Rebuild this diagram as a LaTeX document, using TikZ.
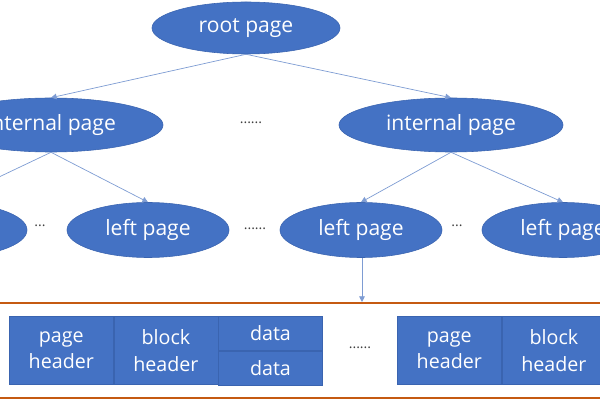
\documentclass[tikz,border=0pt]{standalone}
\usepackage{fontspec}
\setmainfont{Open Sans}
\usetikzlibrary{positioning,shapes,arrows.meta}
\definecolor{pageblue}{HTML}{4472C4}
\definecolor{pageedge}{HTML}{3A64B0}
\definecolor{linkblue}{HTML}{7E9CD3}
\definecolor{barorange}{HTML}{C55A11}
\tikzstyle{page}=[draw=pageedge,fill=pageblue,ellipse,inner sep=0pt,text=white,
        font=\fontsize{15}{18}\selectfont]
\tikzstyle{cell}=[draw=pageedge,fill=pageblue,rectangle,inner sep=0pt,text=white,
        align=center,minimum width=2.6cm,minimum height=1.7cm,
        font=\fontsize{14}{19}\selectfont]
\tikzstyle{halfcell}=[cell,minimum height=0.85cm]
\tikzstyle{dots}=[text=black!75,font=\fontsize{10}{12}\selectfont]
\tikzstyle{link}=[draw=linkblue,line width=0.5pt,-{Triangle[length=4pt,width=4pt]}]
\tikzstyle{bar}=[draw=barorange,line width=2pt]
\newcommand{\newPage}[4]{\node[page,#3](#1) at #4 {#2};}
\newcommand{\newLink}[2]{\path[link] (#1) -- (#2);}

\begin{document}
\begin{tikzpicture}[x=0.025cm,y=-0.025cm,node distance=0pt]
        \clip (0,0) rectangle (600,400);
        % index tree
        \newPage{root}{root page}{minimum width=4.7cm,minimum height=1.3cm}{(246,28)}
        \newPage{intL}{internal page}{minimum width=5.6cm,minimum height=1.35cm}{(51,125)}
        \newPage{intR}{internal page}{minimum width=5.6cm,minimum height=1.35cm}{(451,125)}
        \newPage{leaf0}{left page}{minimum width=4.05cm,minimum height=1.375cm}{(-54,230)}
        \newPage{leaf1}{left page}{minimum width=4.05cm,minimum height=1.375cm}{(148,230)}
        \newPage{leaf2}{left page}{minimum width=4.05cm,minimum height=1.375cm}{(361,230)}
        \newPage{leaf3}{left page}{minimum width=4.05cm,minimum height=1.375cm}{(563,230)}
        \node[dots] (dotsI) at (251,123) {......};
        \node[dots] (dots0) at (40,226) {...};
        \node[dots] (dots1) at (255,229) {......};
        \node[dots] (dots2) at (457,226) {...};
        \newLink{root.south}{intL.north}
        \newLink{root.south}{intR.north}
        \newLink{intL.south}{leaf0.north}
        \newLink{intL.south}{leaf1.north}
        \newLink{intR.south}{leaf2.north}
        \newLink{intR.south}{leaf3.north}
        % page content
        \draw[bar] (0,303) -- (600,303);
        \draw[bar] (0,398) -- (600,398);
        \coordinate (barTop) at (362,302);
        \newLink{leaf2.south -| barTop}{barTop}
        \node[cell,anchor=north west] (pgHead) at (9,316) {page\\header};
        \node[cell,right=of pgHead] (blkHead) {block\\header};
        \node[halfcell,anchor=north west] (data1) at (blkHead.north east) {data};
        \node[halfcell,below=of data1] (data2) {data};
        \node[dots] (dotsP) at (360,348) {......};
        \node[cell,anchor=north west] (pgHeadB) at (397,316) {page\\header};
        \node[cell,right=of pgHeadB] (blkHeadB) {block\\header};
\end{tikzpicture}
\end{document}
